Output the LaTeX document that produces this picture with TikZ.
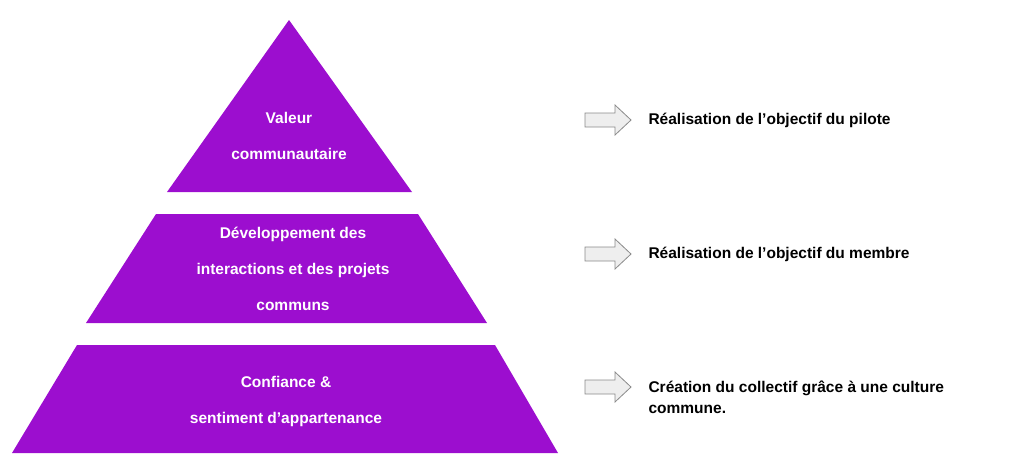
\documentclass[tikz,border=0pt]{standalone}
\usepackage{fontspec}
\setmainfont{Liberation Sans}
\definecolor{purp}{HTML}{9C0ECF}
\definecolor{arrfill}{HTML}{EEEEEE}
\definecolor{arrline}{HTML}{8A8A8A}
\begin{document}
\begin{tikzpicture}[x=1pt,y=-1pt,
  tier/.style={fill=purp,draw=none},
  tiertext/.style={text=white,font=\fontsize{15.5}{36}\selectfont\bfseries,align=center},
  side/.style={text=black,font=\fontsize{15.5}{21}\selectfont\bfseries,align=left,anchor=west},
  arr/.style={fill=arrfill,draw=arrline,line width=0.8pt}]
\useasboundingbox (0,0) rectangle (1024,467);
\fill[tier] (289,20) -- (412,192) -- (167,192) -- cycle;
\fill[tier] (156,214) -- (418,214) -- (487,323) -- (86,323) -- cycle;
\fill[tier] (77,345) -- (495,345) -- (558,453) -- (12,453) -- cycle;
\node[tiertext] (t1) at (289,136) {Valeur\\communautaire};
\node[tiertext] (t2) at (293,269) {Développement des\\interactions et des projets\\communs};
\node[tiertext] (t3) at (286,401) {Confiance \&\\sentiment d’appartenance};
\foreach \y/\n in {120/a1,254/a2,387/a3}{
  \draw[arr] (585,\y-7) -- (615,\y-7) -- (615,\y-15) -- (631,\y) -- (615,\y+15) -- (615,\y+7) -- (585,\y+7) -- cycle;
}
\node[side] (s1) at (645,120) {Réalisation de l’objectif du pilote};
\node[side] (s2) at (645,254) {Réalisation de l’objectif du membre};
\node[side] (s3) at (645,397) {Création du collectif grâce à une culture\\commune.};
\end{tikzpicture}
\end{document}
